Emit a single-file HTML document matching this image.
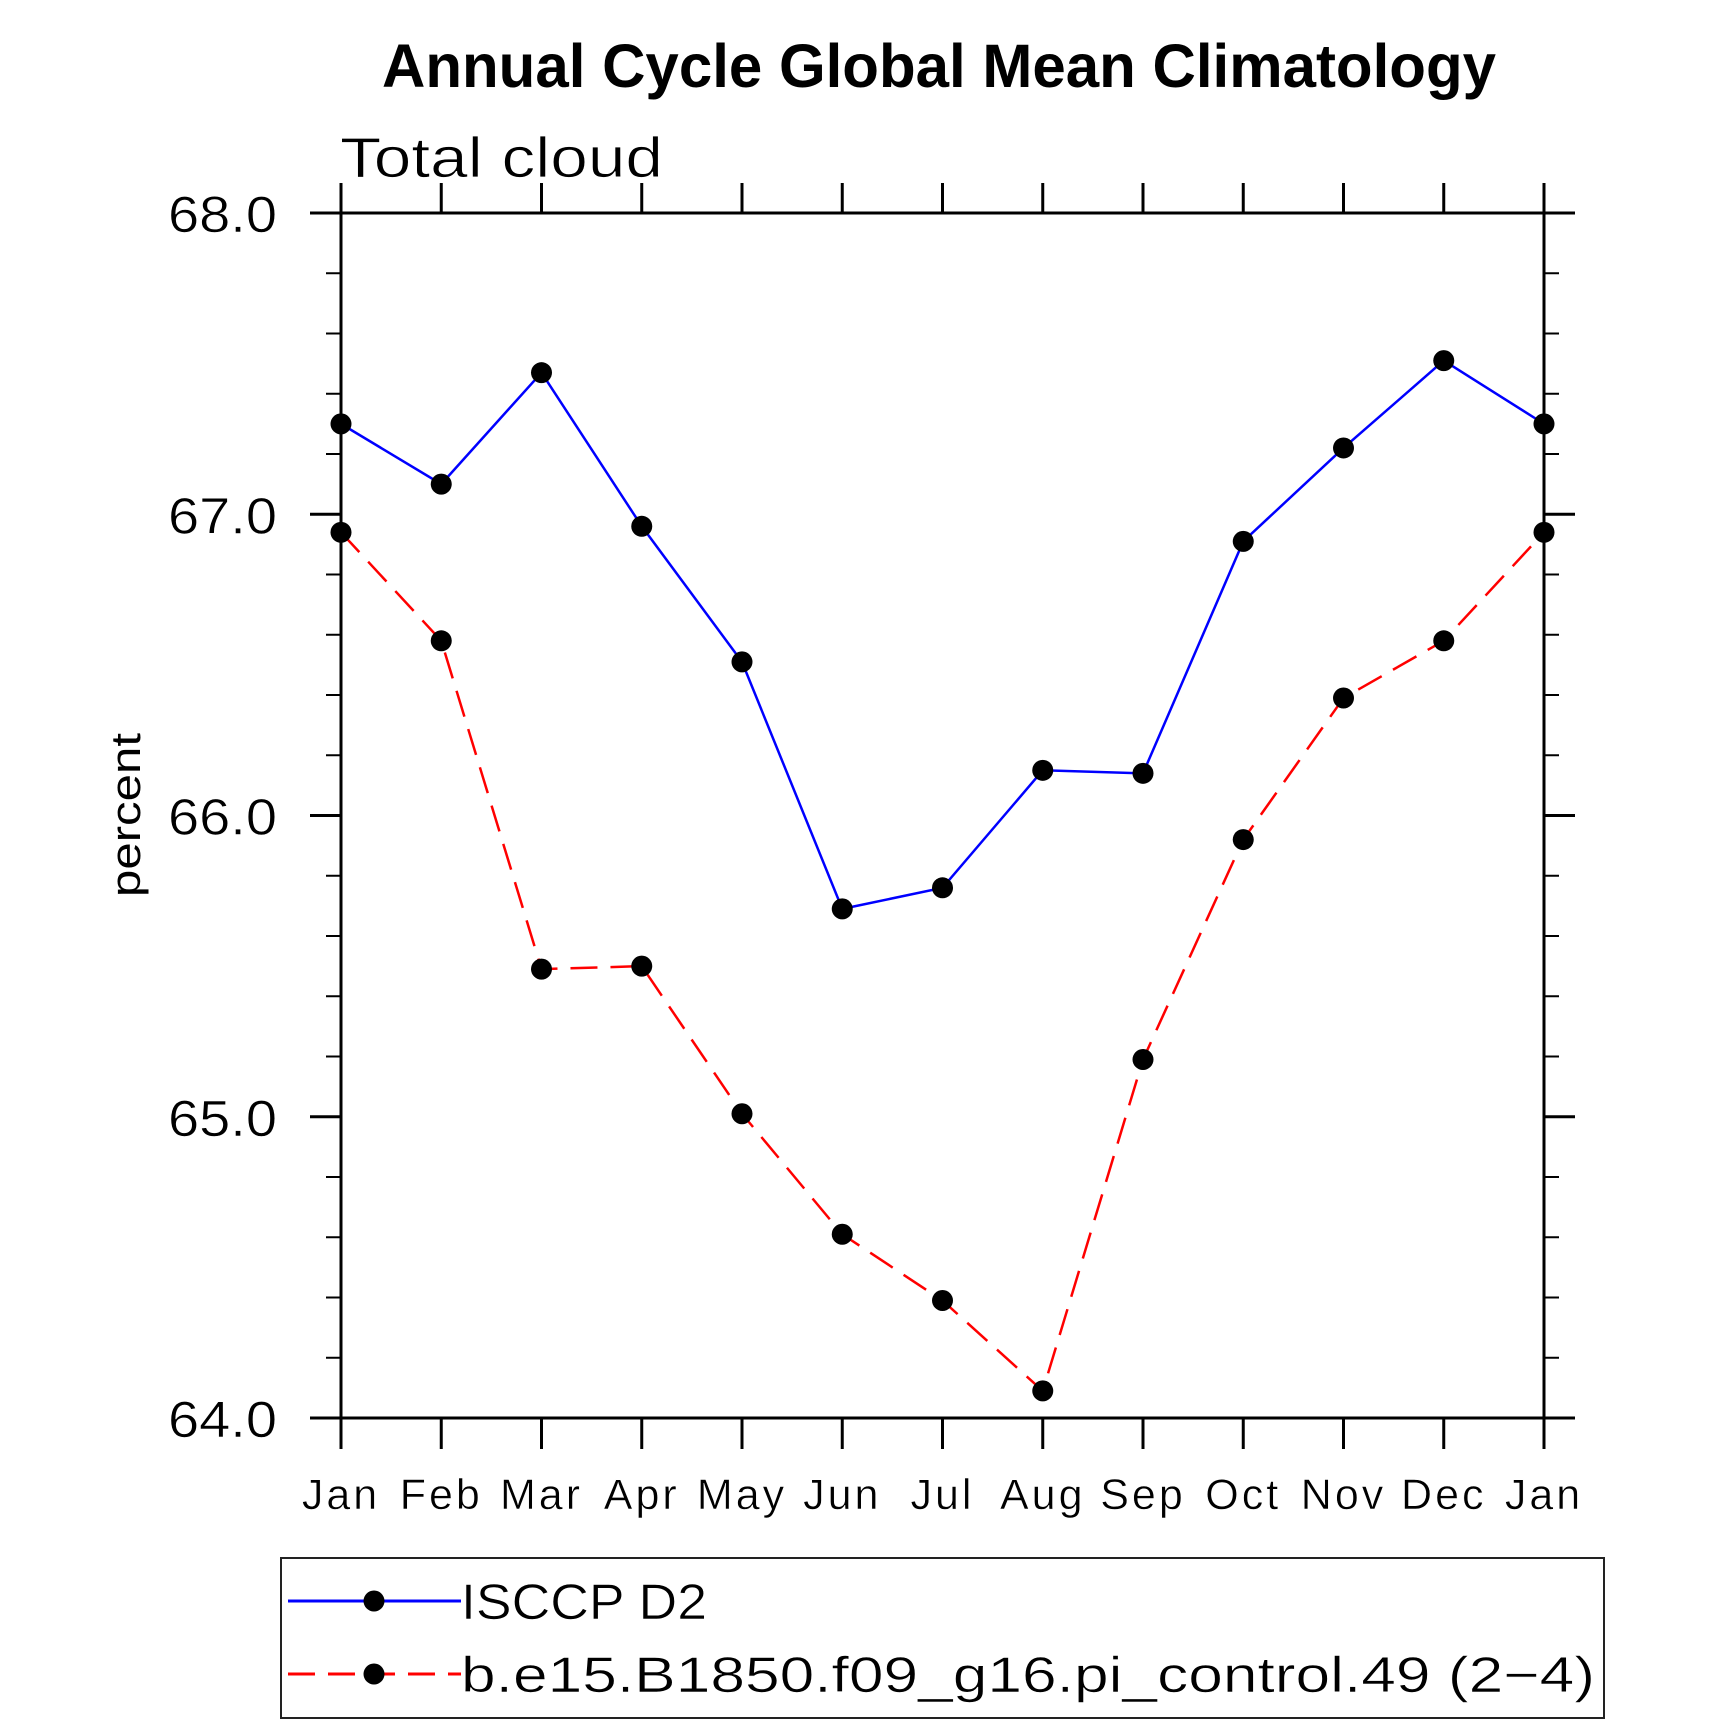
<!DOCTYPE html>
<html><head><meta charset="utf-8"><style>
html,body{margin:0;padding:0;background:#fff;}
svg{display:block;}
text{font-family:"Liberation Sans","DejaVu Sans",sans-serif;}
</style></head><body>
<svg id="chart" width="1710" height="1724" viewBox="0 0 1710 1724" xmlns="http://www.w3.org/2000/svg">
<text x="382" y="87" textLength="1114" lengthAdjust="spacingAndGlyphs" font-size="61" font-weight="bold" fill="#000">Annual Cycle Global Mean Climatology</text>
<text x="340" y="177" textLength="323" lengthAdjust="spacingAndGlyphs" font-size="57" fill="#000" stroke="#fff" stroke-width="0.8">Total cloud</text>
<text transform="translate(140,815) rotate(-90)" text-anchor="middle" textLength="164" lengthAdjust="spacingAndGlyphs" font-size="42" fill="#000">percent</text>
<g id="axes"></g>
<g id="series"></g>
<g id="legend">
  <rect x="281" y="1558" width="1323" height="160" fill="none" stroke="#222" stroke-width="2"/>
  <g>
    <line x1="288" y1="1601" x2="461" y2="1601" stroke="#0000ff" stroke-width="3"/>
    <circle cx="374" cy="1601" r="10.5" fill="#000"/>
    <text x="461" y="1619" textLength="246" lengthAdjust="spacingAndGlyphs" font-size="50" fill="#000" stroke="#fff" stroke-width="0.6">ISCCP D2</text>
  </g>
  <g>
    <line x1="288" y1="1674" x2="461" y2="1674" stroke="#ff0000" stroke-width="3" stroke-dasharray="27,13"/>
    <circle cx="374" cy="1674" r="10.5" fill="#000"/>
    <text x="461" y="1692" textLength="1134" lengthAdjust="spacingAndGlyphs" font-size="50" fill="#000" stroke="#fff" stroke-width="0.6">b.e15.B1850.f09_g16.pi_control.49 (2−4)</text>
  </g>
</g>
</svg>
<script>
const months = ["Jan","Feb","Mar","Apr","May","Jun","Jul","Aug","Sep","Oct","Nov","Dec","Jan"];
const isccpValues = [67.30,67.10,67.47,66.96,66.51,65.69,65.76,66.15,66.14,66.91,67.22,67.51,67.30];
const modelValues = [66.94,66.58,65.49,65.50,65.01,64.61,64.39,64.09,65.19,65.92,66.39,66.58,66.94];
const yTicks = [64,65,66,67,68];
const yTickLabels = ["64.0","65.0","66.0","67.0","68.0"];

const NS="http://www.w3.org/2000/svg";
const L=341,R=1544,T=213,B=1418,YMIN=64,YMAX=68;
function xS(i){return L+(R-L)*i/(months.length-1);}
function yS(v){return B-(v-YMIN)/(YMAX-YMIN)*(B-T);}
function mk(tag,attrs,parent){const e=document.createElementNS(NS,tag);for(const k in attrs)e.setAttribute(k,attrs[k]);parent.appendChild(e);return e;}
const axes=document.getElementById('axes');
const ser=document.getElementById('series');
const S={stroke:"#000","stroke-width":3};
let e;
e=mk('line',Object.assign({x1:310,y1:T,x2:1575,y2:T},S),axes);


e=mk('line',Object.assign({x1:310,y1:B,x2:1575,y2:B},S),axes);


e=mk('line',Object.assign({x1:L,y1:183,x2:L,y2:1449},S),axes);


e=mk('line',Object.assign({x1:R,y1:183,x2:R,y2:1449},S),axes);


months.forEach((m,i)=>{
  const x=xS(i);
  e=mk('line',Object.assign({x1:x,y1:T-30,x2:x,y2:T},S),axes);
  
  
  e=mk('line',Object.assign({x1:x,y1:B,x2:x,y2:B+31},S),axes);
  
  
  e=mk('text',{x:x,y:1509,"text-anchor":"middle","font-size":"43",fill:"#000","letter-spacing":"3",stroke:"#fff","stroke-width":"0.5"},axes);
  e.textContent=m;
  
  
});
for(let v=YMIN;v<=YMAX+1e-9;v+=0.2){
  const y=yS(v);
  const major=Math.abs(v-Math.round(v))<1e-6;
  const len=major?31:15;
  e=mk('line',{x1:L-len,y1:y,x2:L,y2:y,stroke:"#000","stroke-width":major?3:2},axes);
  
  
  e=mk('line',{x1:R,y1:y,x2:R+len,y2:y,stroke:"#000","stroke-width":major?3:2},axes);
  
  
}
yTicks.forEach((v,i)=>{
  e=mk('text',{x:168,y:yS(v)+19,textLength:"109",lengthAdjust:"spacingAndGlyphs","font-size":"51",fill:"#000",stroke:"#fff","stroke-width":"0.6"},axes);
  e.textContent=yTickLabels[i];
  
  
});
function drawSeries(vals,color,dash,name){
  const pts=vals.map((v,i)=>xS(i)+","+yS(v)).join(" ");
  const a={points:pts,fill:"none",stroke:color,"stroke-width":2.5};
  if(dash)a["stroke-dasharray"]=dash;
  e=mk('polyline',a,ser);
  
  
  vals.forEach((v,i)=>{
    e=mk('circle',{cx:xS(i),cy:yS(v),r:10.5,fill:"#000"},ser);
    
    
  });
}
drawSeries(isccpValues,"#0000ff",null,"isccp");
drawSeries(modelValues,"#ff0000","27,13","model");
</script>
</body></html>
